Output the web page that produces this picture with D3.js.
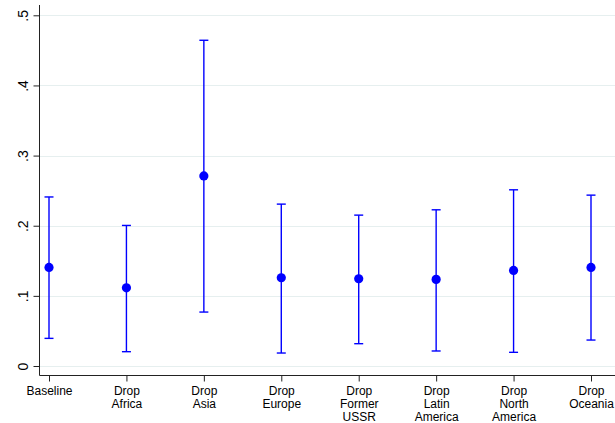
<!DOCTYPE html>
<html>
<head>
<meta charset="utf-8">
<script src="https://cdn.jsdelivr.net/npm/d3@7"></script>
<style>
  html, body { margin: 0; padding: 0; background: #fff; }
  svg { display: block; font-family: "Liberation Sans", Arial, Helvetica, sans-serif; }
</style>
</head>
<body>
<svg id="chart" width="615" height="423"></svg>
<script>
// Sample variants
const categories = ["Baseline", "Drop\nAfrica", "Drop\nAsia", "Drop\nEurope",
  "Drop\nFormer\nUSSR", "Drop\nLatin\nAmerica", "Drop\nNorth\nAmerica", "Drop\nOceania"];
// Point estimates and confidence interval bounds
const estimates = [0.1405, 0.1115, 0.271, 0.1258, 0.1244, 0.1235, 0.1363, 0.1406];
const lowerCI   = [0.0394, 0.0204, 0.0769, 0.0185, 0.0318, 0.0214, 0.0195, 0.0370];
const upperCI   = [0.2410, 0.2004, 0.4644, 0.2308, 0.2151, 0.2227, 0.2512, 0.2436];
const yTicks = [0, 0.1, 0.2, 0.3, 0.4, 0.5];

const svg = d3.select("#chart");
const axisX = 39.5, axisY = 375.5;

const x = d3.scalePoint().domain(categories).range([49, 591]);
const y = d3.scaleLinear().domain([0, 0.5]).range([366, 15.3]);

// Gridlines
svg.append("g").selectAll("line").data(yTicks).join("line")
  .attr("x1", axisX).attr("x2", 615)
  .attr("y1", d => Math.round(y(d)) + 0.5).attr("y2", d => Math.round(y(d)) + 0.5)
  .attr("stroke", "#e6efef").attr("stroke-width", 1);

// Y axis
const yAxis = svg.append("g").attr("transform", `translate(${axisX},0)`)
  .call(d3.axisLeft(y).tickValues(yTicks).tickSize(6).tickSizeOuter(0)
    .tickFormat(d => d === 0 ? "0" : d3.format(".1f")(d).replace(/^0/, "")));
yAxis.select(".domain").attr("d", `M0,5V${axisY}`).attr("stroke", "#222");
yAxis.selectAll(".tick line").attr("stroke", "#222");
yAxis.selectAll(".tick text")
  .attr("x", 0).attr("dy", 0)
  .attr("transform", "translate(-11.5,0) rotate(-90)")
  .attr("text-anchor", "middle")
  .attr("font-size", 14).attr("fill", "#000")
  .attr("font-family", "Liberation Sans, Arial, sans-serif");

// X axis
const xAxis = svg.append("g").attr("transform", `translate(0,${axisY})`)
  .call(d3.axisBottom(x).tickSize(6).tickSizeOuter(0).tickFormat(""));
xAxis.select(".domain").attr("d", `M${axisX},0H615`).attr("stroke", "#222");
xAxis.selectAll(".tick line").attr("stroke", "#222");
xAxis.selectAll(".tick").each(function(d) {
  const t = d3.select(this).append("text")
    .attr("text-anchor", "middle").attr("font-size", 12).attr("fill", "#000")
    .attr("font-family", "Liberation Sans, Arial, sans-serif");
  d.split("\n").forEach((line, i) => {
    t.append("tspan").attr("x", 0).attr("y", 19 + i * 13).text(line);
  });
});

// Confidence intervals
const data = categories.map((c, i) => ({c, est: estimates[i], lo: lowerCI[i], hi: upperCI[i]}));
const blue = "#0000ff";
const cap = 4.5;
const g = svg.append("g");
g.selectAll(".ci").data(data).join("line")
  .attr("x1", d => x(d.c)).attr("x2", d => x(d.c))
  .attr("y1", d => y(d.lo)).attr("y2", d => y(d.hi))
  .attr("stroke", blue).attr("stroke-width", 1.4);
g.selectAll(".capHi").data(data).join("line")
  .attr("x1", d => x(d.c) - cap).attr("x2", d => x(d.c) + cap)
  .attr("y1", d => y(d.hi)).attr("y2", d => y(d.hi))
  .attr("stroke", blue).attr("stroke-width", 1.4);
g.selectAll(".capLo").data(data).join("line")
  .attr("x1", d => x(d.c) - cap).attr("x2", d => x(d.c) + cap)
  .attr("y1", d => y(d.lo)).attr("y2", d => y(d.lo))
  .attr("stroke", blue).attr("stroke-width", 1.4);

// Point estimates
g.selectAll("circle").data(data).join("circle")
  .attr("cx", d => x(d.c)).attr("cy", d => y(d.est)).attr("r", 4.6)
  .attr("fill", blue);
</script>
</body>
</html>
